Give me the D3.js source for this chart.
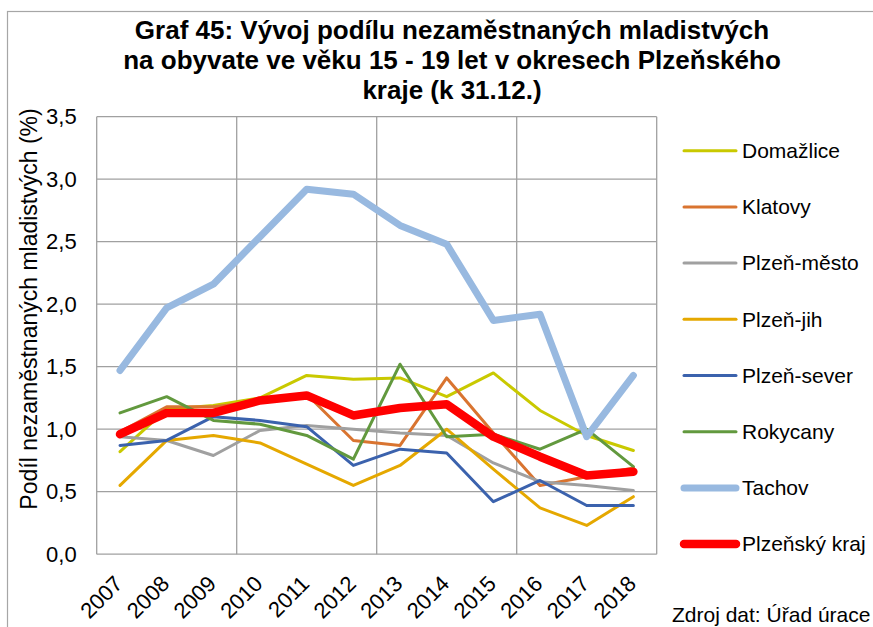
<!DOCTYPE html>
<html>
<head>
<meta charset="utf-8">
<script src="https://cdn.jsdelivr.net/npm/d3@7"></script>
<style>
  html, body { margin: 0; padding: 0; background: #fff; }
  svg { display: block; font-family: "Liberation Sans", Arial, sans-serif; }
</style>
</head>
<body>
<svg id="chart" width="873" height="627"></svg>
<script>
// Years on the category axis
const years = ["2007","2008","2009","2010","2011","2012","2013","2014","2015","2016","2017","2018"];

// Share of unemployed juveniles (%) per district
const domazlice  = [0.82, 1.16, 1.19, 1.25, 1.43, 1.40, 1.41, 1.26, 1.45, 1.15, 0.95, 0.83];
const klatovy    = [0.98, 1.18, 1.18, 1.22, 1.28, 0.91, 0.87, 1.41, 0.97, 0.55, 0.62, 0.69];
const plzenMesto = [0.94, 0.91, 0.79, 0.99, 1.03, 1.00, 0.97, 0.95, 0.73, 0.58, 0.55, 0.51];
const plzenJih   = [0.55, 0.91, 0.95, 0.89, 0.72, 0.55, 0.71, 1.00, 0.68, 0.37, 0.23, 0.46];
const plzenSever = [0.87, 0.91, 1.10, 1.07, 1.02, 0.71, 0.84, 0.81, 0.42, 0.59, 0.39, 0.39];
const rokycany   = [1.13, 1.26, 1.07, 1.04, 0.95, 0.76, 1.52, 0.94, 0.96, 0.84, 1.00, 0.70];
const tachov     = [1.47, 1.97, 2.16, 2.54, 2.92, 2.88, 2.63, 2.48, 1.87, 1.92, 0.94, 1.43];
const kraj       = [0.96, 1.13, 1.13, 1.23, 1.27, 1.11, 1.17, 1.20, 0.94, 0.78, 0.63, 0.66];

const seriesNames = ["Domažlice","Klatovy","Plzeň-město","Plzeň-jih","Plzeň-sever","Rokycany","Tachov","Plzeňský kraj"];
const seriesValues = [domazlice, klatovy, plzenMesto, plzenJih, plzenSever, rokycany, tachov, kraj];
const seriesColors = ["#c9c900","#d97430","#a0a0a0","#e5a800","#3b62ad","#62993e","#98b9e0","#ff0000"];
const seriesWidths = [3, 3, 3, 3, 3, 3, 7, 8.5];

const yTicks = [0, 0.5, 1, 1.5, 2, 2.5, 3, 3.5];
const titleLines = [
  "Graf 45: Vývoj podílu nezaměstnaných mladistvých",
  "na obyvate ve věku 15 - 19 let v okresech Plzeňského",
  "kraje (k 31.12.)"
];

const svg = d3.select("#chart");
const plot = { left: 96.7, right: 656.7, top: 116.7, bottom: 554.2 };

svg.append("rect").attr("width", 873).attr("height", 627).attr("fill", "#fff");

// outer chart frame
svg.append("rect")
  .attr("x", 7.5).attr("y", 11.5).attr("width", 900).attr("height", 700)
  .attr("fill", "none").attr("stroke", "#a6a6a6").attr("stroke-width", 1.2);

const x = d3.scaleBand().domain(years).range([plot.left, plot.right]);
const y = d3.scaleLinear().domain([0, 3.5]).range([plot.bottom, plot.top]);
const cx = d => x(d) + x.bandwidth() / 2;

// horizontal gridlines
svg.append("g").selectAll("line").data(yTicks).join("line")
  .attr("x1", plot.left).attr("x2", plot.right)
  .attr("y1", d => y(d)).attr("y2", d => y(d))
  .attr("stroke", "#a0a0a0").attr("stroke-width", 1.3);

// vertical gridlines every third category boundary
const vBounds = [0, 3, 6, 9, 12].map(i => plot.left + i * x.step());
svg.append("g").selectAll("line").data(vBounds).join("line")
  .attr("x1", d => d).attr("x2", d => d)
  .attr("y1", plot.top).attr("y2", plot.bottom)
  .attr("stroke", "#a0a0a0").attr("stroke-width", 1.3);

// y axis labels
const yAxis = d3.axisLeft(y).tickValues(yTicks).tickSize(0).tickPadding(20)
  .tickFormat(d => d3.format(".1f")(d).replace(".", ","));
const gy = svg.append("g").attr("transform", `translate(${plot.left},0)`).call(yAxis);
gy.select(".domain").remove();
gy.selectAll("text").attr("font-size", 22).attr("fill", "#000")
  .attr("font-family", "'Liberation Sans', Arial, sans-serif");

// x axis labels, rotated
const xAxis = d3.axisBottom(x).tickSize(0);
const gx = svg.append("g").attr("transform", `translate(0,${plot.bottom})`).call(xAxis);
gx.select(".domain").remove();
gx.selectAll("text")
  .attr("font-size", 22).attr("fill", "#000")
  .attr("font-family", "'Liberation Sans', Arial, sans-serif")
  .attr("text-anchor", "end").attr("dy", null).attr("y", null)
  .attr("transform", "translate(4,31) rotate(-45)");

// series lines
const line = d3.line().x((d, i) => cx(years[i])).y(d => y(d));
seriesValues.forEach((vals, k) => {
  svg.append("path").datum(vals)
    .attr("d", line)
    .attr("fill", "none")
    .attr("stroke", seriesColors[k])
    .attr("stroke-width", seriesWidths[k])
    .attr("stroke-linejoin", "round")
    .attr("stroke-linecap", "round");
});

// legend
const legend = svg.append("g");
seriesNames.forEach((name, k) => {
  const ly = 150.7 + k * 56.2;
  legend.append("line")
    .attr("x1", 684).attr("x2", 736).attr("y1", ly).attr("y2", ly)
    .attr("stroke", seriesColors[k]).attr("stroke-width", seriesWidths[k])
    .attr("stroke-linecap", "round");
  legend.append("text")
    .attr("x", 742).attr("y", ly).attr("dy", "0.35em")
    .attr("font-size", 21).attr("fill", "#000").text(name);
});

// y axis title
svg.append("text")
  .attr("transform", "translate(37,309) rotate(-90)")
  .attr("text-anchor", "middle").attr("font-size", 23).attr("fill", "#000")
  .text("Podíl nezaměstnaných mladistvých (%)");

// title
svg.append("text").attr("text-anchor", "middle").attr("font-size", 26)
  .attr("font-weight", "bold").attr("fill", "#000")
  .selectAll("tspan").data(titleLines).join("tspan")
  .attr("x", 452).attr("y", (d, i) => 39 + i * 30).text(d => d);

// source note
svg.append("text").attr("x", 672).attr("y", 622).attr("font-size", 21)
  .attr("fill", "#000").text("Zdroj dat: Úřad úrace");
</script>
</body>
</html>
